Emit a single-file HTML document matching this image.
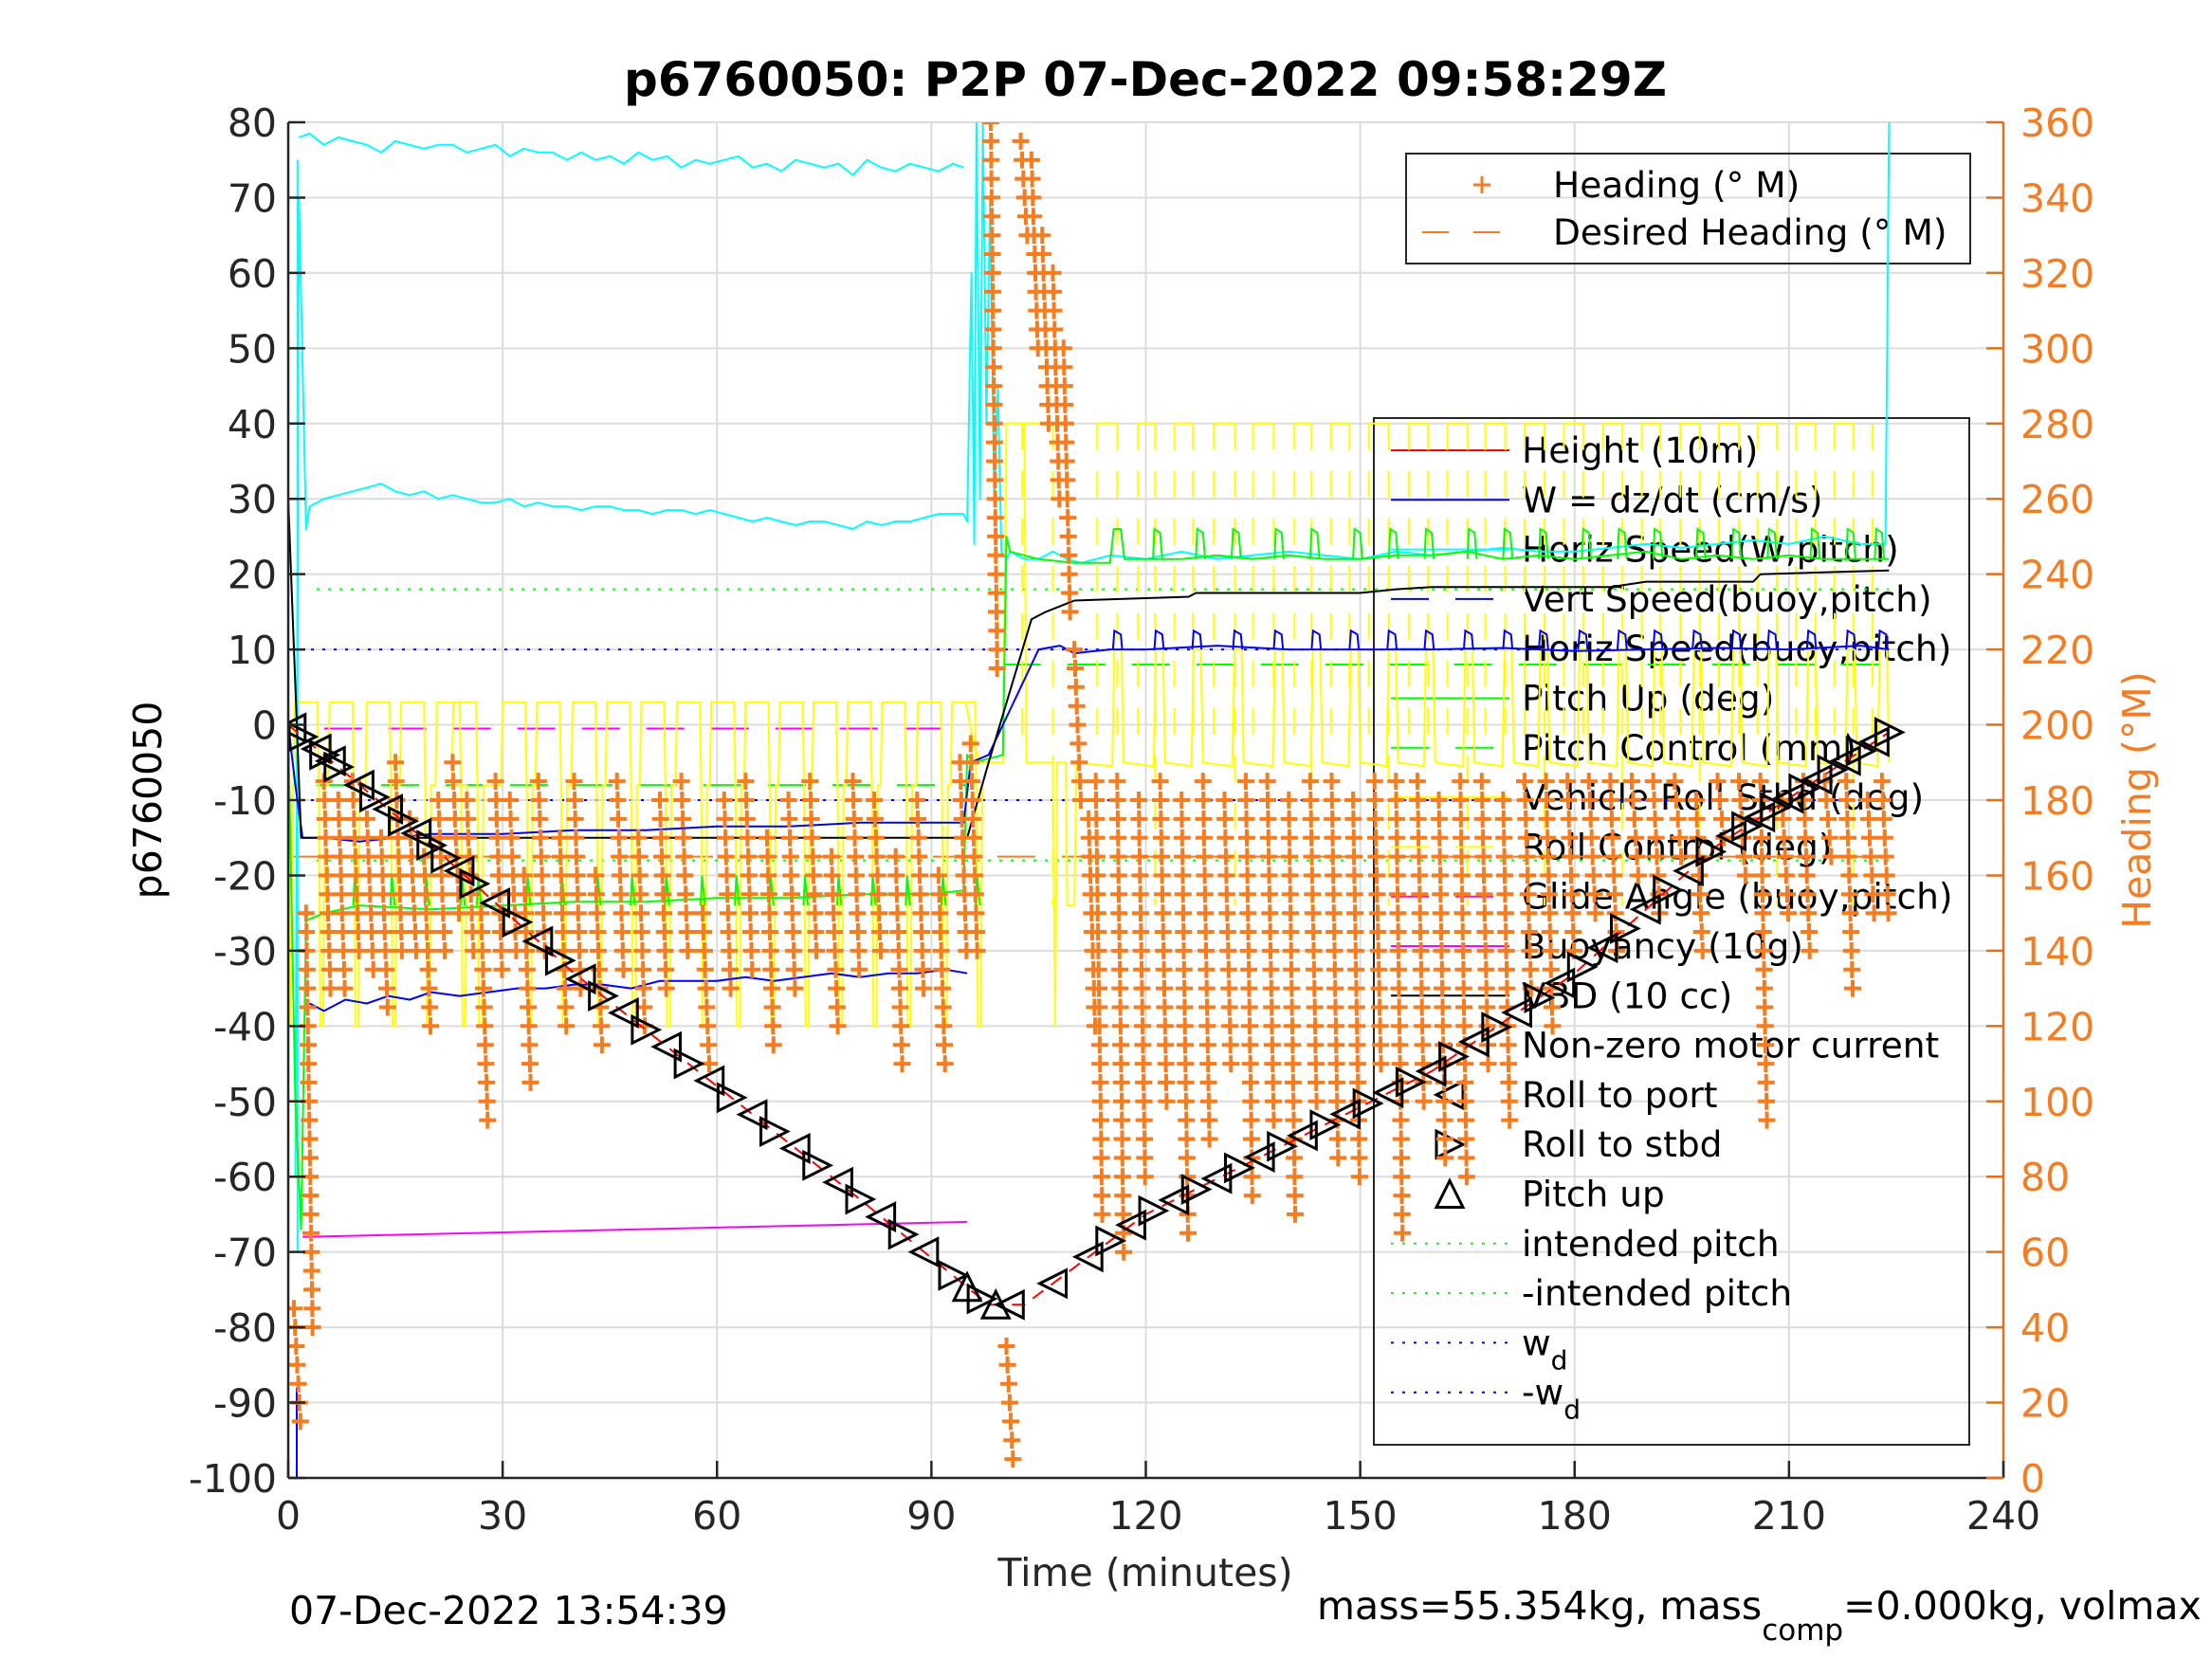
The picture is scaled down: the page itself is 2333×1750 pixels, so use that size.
<!DOCTYPE html>
<html><head><meta charset="utf-8"><title>p6760050 P2P plot</title>
<style>
html,body{margin:0;padding:0;background:#fff;}
svg{display:block;font-family:"DejaVu Sans","Liberation Sans",sans-serif;}
</style></head>
<body>
<svg id="chart" width="2333" height="1750" viewBox="0 0 2333 1750" xmlns="http://www.w3.org/2000/svg">
<defs><clipPath id="axclip"><rect x="304" y="129" width="1809" height="1430"/></clipPath></defs>
<rect x="0" y="0" width="2333" height="1750" fill="#fff"/>
<text x="1208" y="101" text-anchor="middle" font-size="50" font-weight="bold">p6760050: P2P 07-Dec-2022 09:58:29Z</text>
<g id="grid"></g>
<g id="legendMain"></g>
<g id="legendHead"></g>
<g id="data" clip-path="url(#axclip)"></g>
<g id="axes"></g>
<text x="1208" y="1673" text-anchor="middle" font-size="41" fill="#262626">Time (minutes)</text>
<text transform="translate(170,844) rotate(-90)" text-anchor="middle" font-size="41" fill="#000">p6760050</text>
<text transform="translate(2268,844) rotate(-90)" text-anchor="middle" font-size="41" fill="#f57c20">Heading (°M)</text>
<text x="305" y="1713" font-size="41" fill="#000">07-Dec-2022 13:54:39</text>
<text x="1389" y="1708" font-size="41" fill="#000">mass=55.354kg, mass<tspan dy="22" font-size="31">comp</tspan><tspan dy="-22">=0.000kg, volmax</tspan></text>
</svg>
<script>
// ---------- data arrays ----------
const xTicks=[0,30,60,90,120,150,180,210,240];
const yTicks=[80,70,60,50,40,30,20,10,0,-10,-20,-30,-40,-50,-60,-70,-80,-90,-100];
const hTicks=[360,340,320,300,280,260,240,220,200,180,160,140,120,100,80,60,40,20,0];

const depthT=[0,20,40,60,80,98,103,120,140,160,180,200,224];
const depthV=[0,-16,-33,-48,-63,-77,-77,-65,-55.5,-46,-33,-16,-1];
const portT=[0.5,4,6,10,14,18,24,29,35,41,47,53,59,65,71,77,83,89,101,107,112,118,124,130,136,142,148,154,160,166,172,178,184,190,196,202,206,210,214,218,222];
const stbdT=[2,5,7,12,16,20,22,26,32,38,44,50,56,62,68,74,80,86,93,97,115,121,127,133,139,145,151,157,163,169,175,181,187,193,199,204,208,212,216,220,224];
const pitchUpT=[95,99];

const vbdT=[0,1.8,95,98,104,106,110,126,127,150,155,160,185,190,205,206,224];
const vbdV=[30,-15,-15,-5,14,15,16.5,17,17.5,17.5,18,18.3,18.3,19,19,20,20.5];

const cyanHiT=[1.5,3,5,7,9,11,13,15,17,19,21,23,25,27,29,31,33,35,37,39,41,43,45,47,49,51,53,55,57,59,61,63,65,67,69,71,73,75,77,79,81,83,85,87,89,91,93,94.5];
const cyanHiV=[78,78.5,77,78,77.5,77,76,77.5,77,76.5,77,77,76,76.5,77,75.5,76.5,76,76,75,76,75,75.5,74.5,76,75,75.5,74,75,74.5,75,75.5,74,74.5,73.5,75,74.5,74,74.5,73,75,74,73.5,74.5,74,73.5,74.5,74];
const cyanMidT=[1,1.5,2.5,3,5,7,9,11,13,15,17,19,21,23,25,27,29,31,33,35,37,39,41,43,45,47,49,51,53,55,57,59,61,63,65,67,69,71,73,75,77,79,81,83,85,87,89,91,93,94.5,95,95.6,96,96.3,96.8,97.2,97.7,98.2,98.8,99.3,99.8,100.5,101,103,105,107,109,111,115,120,125,130,135,140,145,150,155,160,165,170,175,180,185,190,195,200,205,210,215,220,223.5,224,224.2];
const cyanMidV=[-60,70,26,29,30,30.5,31,31.5,32,31,30.5,31,30,30.5,30,29.5,29.5,30,29,29.5,29,29,28.5,29,29,28.5,28.5,28,28.5,28.5,28,28.5,28,27.5,27,27.5,27,26.5,27,27,26.5,26,27,26.5,27,27,27.5,28,28,28,27,60,24,80,30,80,40,70,30,45,23,22,23,22,22,23,22,21.5,22.5,22,23,22,22.5,23,22.5,22,23,22.5,23,23.5,23,23,23.5,24,23.5,24,24.5,24,25,24,24,80,80];

const greenT=[0,1,1.8,2.5,5,10,20,30,40,50,60,70,80,90,94.5,95,96,100,100.5,101,105,110,115,115.5,116.5,117,125,130,135,140,145,150,155,160,165,170,175,180,185,190,195,200,205,210,215,220,224];
const greenV=[0,-50,-67,-26,-25,-24,-24.5,-24,-23.5,-23.5,-23,-23,-22.5,-22.5,-22,-4,-5,-4,25,23,22,21.5,21.5,26,26,22,22,22.5,22,22.5,22,22,22.5,22.5,23,22,22.5,22,22.5,23,22,22.5,22,22.5,22,22,22];
const greenBumpT=[121,127,132,138,143,149,154,159,165,170,175,181,186,191,197,202,207,213,218,222];

const blueWT=[0,1,2,5,10,20,30,40,50,60,70,80,90,94.5,95.5,98,100,103,105,108,110,115,120,130,140,150,160,170,180,190,200,210,220,224];
const blueWV=[0,-8,-15,-15,-15.5,-14.5,-14.5,-14,-14,-13.5,-13.5,-13,-13,-13,-5,-4,0,6,10,10.5,9.5,10,10,10.5,10,10,10,10.2,9.8,10,10.2,10,10.5,10];
const blueBT=[3,5,8,11,14,17,20,24,28,32,36,40,44,48,52,56,60,64,68,72,76,80,84,88,92,95];
const blueBV=[-37,-38,-36.5,-37,-36,-36.5,-35.5,-36,-35.5,-35,-35,-34.5,-34.5,-35,-34,-34,-34,-33.5,-34,-33.5,-33,-33.5,-33,-33,-32.5,-33];

const yellowCycleT=[0.5,5.4,10.6,15.4,20.4,22.7,29.6,34.4,39.4,44.2,49,54,58.8,63.6,68.4,73.1,77.9,82.7,87.7,92.5];
const yellowPulseT=[115.4,121.2,126.5,132.2,137.9,143.2,148.5,153.8,159,164.5,170,175,180.5,186,191,196.5,202,207,212.5,218,222.5];
const rollCtrlT=[102.7,107,113.2,116,118.9,121.3,124,126.6,129.5,132.5,135,137.9,140.8,143.2,145.9,148.5,151.2,154,156.8,159.5,162.2,165,167.5,170.3,173,175.8,178.5,181.2,184,186.7,189.4,192,194.8,197.5,200.2,203,205.6,208.3,211,213.7,216.4,219,221.7];

// heading stripes: time, low heading, high heading (deg)
const hdgT=[0.8,2.5,5,7,9,11,13,15,17,19,21,23,25,27,29,31,33,35,38,40,43,46,49,52,55,58,61,64,67,70,73,76,79,82,85,88,91,94,95.5,98.3,100.5,102.5,104,105.5,107,108.5,110,112,113,116,119,122,125,128,131,134,137,140,143,146,149,152,155,158,161,164,167,170,173,176,179,182,185,188,191,194,197,200,203,206,209,212,215,218,221,223];
const hdgLo=[15,40,130,130,140,135,125,140,140,120,140,150,140,95,135,140,105,140,120,130,115,135,120,130,140,110,130,135,115,130,140,120,135,140,110,130,110,140,140,215,5,330,300,280,260,230,180,120,70,60,80,100,65,90,110,75,95,70,100,85,80,110,65,100,85,80,110,95,130,120,140,150,140,160,150,165,140,170,160,95,150,140,165,130,150,150];
const hdgHi=[45,150,185,180,185,175,170,190,175,165,180,190,180,150,185,180,160,185,170,185,160,185,170,180,185,150,180,185,170,180,185,165,185,180,165,180,160,190,195,360,35,355,350,330,320,300,220,175,185,185,180,185,180,185,180,185,185,180,185,185,180,185,185,185,180,185,185,180,185,185,185,185,185,185,185,185,180,185,185,185,180,185,185,185,180,185];
const desiredHeading=[165];

// ---------- scales ----------
const X0=304,X1=2113,Y0=129,Y1=1559;
function X(t){return X0+t*(X1-X0)/240;}
function Y(v){return Y1-(v+100)*(Y1-Y0)/180;}
function YH(h){return Y1-h*(Y1-Y0)/360;}
const NS="http://www.w3.org/2000/svg";
function mk(tag,attrs,parent){const e=document.createElementNS(NS,tag);for(const k in attrs)e.setAttribute(k,attrs[k]);parent.appendChild(e);return e;}
function interp(ts,vs,t){for(let i=1;i<ts.length;i++){if(t<=ts[i]){const f=(t-ts[i-1])/(ts[i]-ts[i-1]);return vs[i-1]+f*(vs[i]-vs[i-1]);}}return vs[vs.length-1];}
function pathFrom(ts,vs){let d="";const n=Math.min(ts.length,vs.length);for(let i=0;i<n;i++)d+=(i?"L":"M")+X(ts[i]).toFixed(1)+","+Y(vs[i]).toFixed(1);return d;}

const grid=document.getElementById('grid'),data=document.getElementById('data'),axes=document.getElementById('axes');
xTicks.forEach(t=>{const l=mk('line',{x1:X(t),x2:X(t),y1:Y0,y2:Y1,stroke:'#dcdcdc','stroke-width':2},grid);

});
yTicks.forEach(v=>{const l=mk('line',{x1:X0,x2:X1,y1:Y(v),y2:Y(v),stroke:'#dcdcdc','stroke-width':2},grid);

});

// ---------- legends ----------
const lg=document.getElementById('legendMain');
mk('rect',{x:1449,y:441,width:628,height:1083,fill:'none',stroke:'#262626','stroke-width':2},lg);
const legItems=[
['Height (10m)','#ff0000',''],['W = dz/dt (cm/s)','#0000ff',''],['Horiz Speed(W,pitch)','#00ffff',''],
['Vert Speed(buoy,pitch)','#0000ff','dash'],['Horiz Speed(buoy,pitch)','#00ffff','dash'],['Pitch Up (deg)','#00ff00',''],
['Pitch Control (mm)','#00ff00','dash'],['Vehicle Roll Stbd (deg)','#ffff00',''],['Roll Control (deg)','#ffff00','dash'],
['Glide Angle (buoy,pitch)','#ff00ff','dash'],['Buoyancy (10g)','#ff00ff',''],['VBD (10 cc)','#000000',''],
['Non-zero motor current','#000','dot'],['Roll to port','#000','lt'],['Roll to stbd','#000','rt'],['Pitch up','#000','ut'],
['intended pitch','#00ff00','dotted'],['-intended pitch','#00ff00','dotted'],['w_d','#0000ff','dotted'],['-w_d','#0000ff','dotted']];
legItems.forEach((it,i)=>{
 const y=475+52.3*i;
 const g=mk('g',{},lg);
 
 
 const [lab,col,sty]=it;
 if(sty===''||sty==='dash'||sty==='dotted'){
  const a={x1:1467,x2:1592,y1:y,y2:y,stroke:col,'stroke-width':2};
  if(sty==='dash')a['stroke-dasharray']='40,28';
  if(sty==='dotted')a['stroke-dasharray']='3,9';
  mk('line',a,g);
 } else if(sty==='dot'){mk('circle',{cx:1529,cy:y,r:3,fill:'#000'},g);}
 else {const s=14,cx=1529;let p;
  if(sty==='lt')p=`${cx-s},${y} ${cx+s},${y-s} ${cx+s},${y+s}`;
  else if(sty==='rt')p=`${cx+s},${y} ${cx-s},${y-s} ${cx-s},${y+s}`;
  else p=`${cx},${y-s} ${cx-s},${y+s} ${cx+s},${y+s}`;
  mk('polygon',{points:p,fill:'none',stroke:'#000','stroke-width':3},g);}
 const tx=mk('text',{x:1605,y:y+13,'font-size':37.5,fill:'#000'},g);
 if(lab.startsWith('w_d')||lab.startsWith('-w_d')){tx.textContent=lab.replace('w_d','w');const ts=mk('tspan',{dy:15,'font-size':28},tx);ts.textContent='d';}
 else tx.textContent=lab;
});
const lh=document.getElementById('legendHead');
mk('rect',{x:1483,y:162,width:595,height:116,fill:'none',stroke:'#262626','stroke-width':2},lh);
[['Heading (° M)','cross'],['Desired Heading (° M)','dash']].forEach((it,i)=>{
 const y=195+50*i;const g=mk('g',{},lh);
 
 
 if(it[1]==='cross'){mk('path',{d:`M1563,${y-9}V${y+9}M1554,${y}H1572`,stroke:'#f57c20','stroke-width':3},g);}
 else mk('line',{x1:1500,x2:1608,y1:y,y2:y,stroke:'#f57c20','stroke-width':2,'stroke-dasharray':'28,26'},g);
 const tx=mk('text',{x:1638,y:y+13,'font-size':37.5,fill:'#000'},g);tx.textContent=it[0];
});

// ---------- series ----------
function line(ts,vs,col,w,name,dash){const p=mk('path',{d:pathFrom(ts,vs),fill:'none',stroke:col,'stroke-width':w||2,'stroke-linejoin':'round'},data);
 if(dash)p.setAttribute('stroke-dasharray',dash);
 
 return p;}

line([4,224],[18,18],'#00ff00',2,'intended-pitch-line','3,9');
line([4,224],[-18,-18],'#00ff00',2,'neg-intended-pitch-line','3,9');
line([0,224],[10,10],'#0000ff',2,'wd-line','3,9');
line([0,224],[-10,-10],'#0000ff',2,'neg-wd-line','3,9');
line([4,95],[-8,-8],'#00ff00',2,'pitch-control-descent','40,28');
line([100,224],[8,8],'#00ff00',2,'pitch-control-ascent','40,28');
line([5,95],[-0.5,-0.5],'#ff00ff',2,'glide-angle-line','40,28');
const dh=mk('line',{x1:X(0),x2:X(224),y1:YH(desiredHeading[0]),y2:YH(desiredHeading[0]),stroke:'#f57c20','stroke-width':2,'stroke-dasharray':'40,28'},data);



(function(){let ts=[0,0.3],vs=[6,-40];
 yellowCycleT.forEach(s=>{ts.push(s+0.2,s+0.4,s+3.6,s+3.8,s+4.0,s+4.4,s+4.6);vs.push(-8,3,3,-10,-40,-40,-8);});
 line(ts,vs,'#ffff00',2,'vehicle-roll-descent');
 let t2=[94.8,96,97,100,100.5,103,103.3,107,107.3,107.6,108.8,109,110,110.3],v2=[3,-3,-5,-5,40,40,-5,-5,-40,-5,-5,-24,-24,-5];
 yellowPulseT.forEach(p=>{t2.push(p-0.1,p+0.2,p+1.2,p+1.5);v2.push(-5.5,10,10,-5);});
 t2.push(224);v2.push(-5);
 line(t2,v2,'#ffff00',2,'vehicle-roll-ascent');
 rollCtrlT.forEach((t,i)=>{const lo=(i%4===1)?-24:-2;
  const l=mk('line',{x1:X(t),x2:X(t),y1:Y(40),y2:Y(lo),stroke:'#ffff00','stroke-width':2,'stroke-dasharray':'28,22'},data);
  
  
  if(i%2===0&&i+1<rollCtrlT.length){const h=mk('line',{x1:X(t),x2:X(rollCtrlT[i+1]),y1:Y(40),y2:Y(40),stroke:'#ffff00','stroke-width':2},data);
  
  }});
})();

line(cyanHiT,cyanHiV,'#00ffff',2,'horiz-speed-buoy-line');
line([1.3,1.3],[-70,75],'#00ffff',2,'horiz-speed-start-spike');
line(cyanMidT,cyanMidV,'#00ffff',2,'horiz-speed-w-line');
(function(){
 line(greenT,greenV,'#00ff00',2,'pitch-up-line');
 greenBumpT.forEach(b=>{const l=mk('path',{d:`M${X(b)},${Y(22)}L${X(b+0.2)},${Y(26)}L${X(b+1)},${Y(25.5)}L${X(b+1.3)},${Y(22)}`,fill:'none',stroke:'#00ff00','stroke-width':2},data);
 
 });
 yellowCycleT.forEach(b=>{if(b<3)return;const l=mk('path',{d:`M${X(b+3.7)},${Y(-24)}L${X(b+3.9)},${Y(-20)}L${X(b+4.3)},${Y(-24)}`,fill:'none',stroke:'#00ff00','stroke-width':2},data);
 
 });
})();
line(blueWT,blueWV,'#0000ff',2,'w-dzdt-line');
line(blueBT,blueBV,'#0000ff',2,'vert-speed-buoy-line');
yellowPulseT.forEach(b=>{const l=mk('path',{d:`M${X(b)},${Y(10)}L${X(b+0.2)},${Y(12.5)}L${X(b+1.1)},${Y(12)}L${X(b+1.3)},${Y(10)}`,fill:'none',stroke:'#0000ff','stroke-width':2},data);
 
 });
line([1.2,1.2],[-100,-88],'#0000ff',2,'w-start-spike');
line([2,95],[-68,-66],'#ff00ff',2,'buoyancy-line');
line(vbdT,vbdV,'#000000',2,'vbd-line');

(function(){const g=mk('g',{stroke:'#f57c20','stroke-width':4},data);
 
 
 let d="";
 for(let i=0;i<hdgT.length;i++){const lo=hdgLo[i],hi=hdgHi[i];const n=Math.max(1,Math.round((hi-lo)/5));
  for(let k=0;k<=n;k++){const h=hi-(hi-lo)*k/n;const t=hdgT[i]+0.9*k/n;const x=X(t),y=YH(h);
   d+=`M${x.toFixed(1)},${(y-9).toFixed(1)}v18M${(x-9).toFixed(1)},${y.toFixed(1)}h18`;}}
 const p=mk('path',{d:d,fill:'none'},g);
 
 
})();

line(depthT,depthV,'#ff0000',2,'height-line','14,10');
function tri(t,kind){const x=X(t),y=Y(interp(depthT,depthV,t)),s=14;let p;
 if(kind==='lt')p=`${x-s},${y} ${x+s},${y-s} ${x+s},${y+s}`;
 else if(kind==='rt')p=`${x+s},${y} ${x-s},${y-s} ${x-s},${y+s}`;
 else p=`${x},${y-s} ${x-s},${y+s} ${x+s},${y+s}`;
 return mk('polygon',{points:p,fill:'none',stroke:'#000','stroke-width':3},data);}
portT.forEach(t=>{const e=tri(t,'lt');
 
 });
stbdT.forEach(t=>{const e=tri(t,'rt');
 
 });
pitchUpT.forEach(t=>{const e=tri(t,'ut');
 
 });

// ---------- axes ----------
mk('line',{x1:X0,x2:X0,y1:Y0,y2:Y1,stroke:'#262626','stroke-width':2.5},axes);
mk('line',{x1:X0,x2:X1,y1:Y1,y2:Y1,stroke:'#262626','stroke-width':2.5},axes);
mk('line',{x1:X1,x2:X1,y1:Y0,y2:Y1,stroke:'#e0701c','stroke-width':2.5},axes);
xTicks.forEach(t=>{mk('line',{x1:X(t),x2:X(t),y1:Y1,y2:Y1-18,stroke:'#262626','stroke-width':2.5},axes);
 const tx=mk('text',{x:X(t),y:Y1+54,'text-anchor':'middle','font-size':41,fill:'#262626'},axes);tx.textContent=t;
 
 });
yTicks.forEach(v=>{mk('line',{x1:X0,x2:X0+18,y1:Y(v),y2:Y(v),stroke:'#262626','stroke-width':2.5},axes);
 const tx=mk('text',{x:X0-12,y:Y(v)+15,'text-anchor':'end','font-size':41,fill:'#262626'},axes);tx.textContent=v;
 
 });
hTicks.forEach(h=>{mk('line',{x1:X1,x2:X1-18,y1:YH(h),y2:YH(h),stroke:'#e0701c','stroke-width':2.5},axes);
 const tx=mk('text',{x:X1+18,y:YH(h)+15,'font-size':41,fill:'#f57c20'},axes);tx.textContent=h;
 
 });
</script>
</body></html>
